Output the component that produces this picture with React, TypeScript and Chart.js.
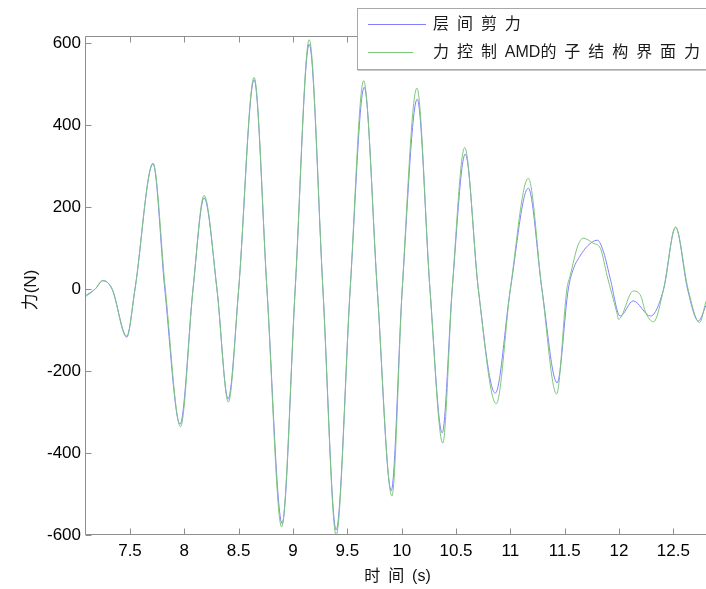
import React, { useEffect, useRef } from 'react';
import { Chart, registerables } from 'chart.js';

Chart.register(...registerables);

// ---- data ----
const shearT = [
  7.086, 7.18, 7.25, 7.335, 7.47, 7.546, 7.712, 7.82, 7.961, 8.08, 8.182, 8.3, 8.403, 8.5,
  8.642, 8.76, 8.9, 9.02, 9.149, 9.275, 9.397, 9.526, 9.655, 9.775, 9.904, 10.005, 10.143,
  10.26, 10.373, 10.465, 10.585, 10.705, 10.861, 11.0, 11.165, 11.29, 11.43, 11.533, 11.58,
  11.64, 11.71, 11.8, 11.86, 11.92, 12.01, 12.13, 12.29, 12.41, 12.52, 12.63, 12.73, 12.8,
];
const shearV = [
  -17, 0, 20, 0, -115, 0, 305, 0, -330, 0, 222, 0, -268, 0,
  510, 0, -572, 0, 597, 0, -588, 0, 492, 0, -492, 0, 463,
  0, -351, 0, 329, 0, -254, 0, 246, 0, -229, 0, 49,
  80, 105, 119, 88, 24, -66, -29, -66, 0, 151, 0, -78, -40,
];

const amdT = [
  7.086, 7.18, 7.25, 7.335, 7.47, 7.546, 7.712, 7.825, 7.965, 8.08, 8.182, 8.3, 8.405, 8.5,
  8.642, 8.76, 8.895, 9.02, 9.149, 9.275, 9.397, 9.526, 9.65, 9.775, 9.91, 10.005, 10.14,
  10.26, 10.378, 10.465, 10.58, 10.705, 10.87, 11.0, 11.165, 11.29, 11.425, 11.52, 11.55,
  11.62, 11.67, 11.76, 11.83, 11.89, 11.98, 11.995, 12.13, 12.2, 12.24, 12.317, 12.41,
  12.52, 12.635, 12.74, 12.8,
];
const amdV = [
  -20, 0, 21, 0, -118, 0, 307, 0, -336, 0, 228, 0, -276, 0,
  516, 0, -580, 0, 608, 0, -600, 0, 508, 0, -505, 0, 490,
  0, -376, 0, 345, 0, -280, 0, 270, 0, -256, 0, 32,
  105, 124, 112, 98, 32, -58, -74, -5, -17, -54, -80, 0,
  150, 0, -82, -30,
];

const xTicks = [7.5, 8, 8.5, 9, 9.5, 10, 10.5, 11, 11.5, 12, 12.5];
const yTicks = [-600, -400, -200, 0, 200, 400, 600];
const legendLabels = ['层 间 剪 力', '力 控 制 AMD的 子 结 构 界 面 力'];
const xTitle = '时 间 (s)';
const yTitle = '力(N)';

const X_MIN = 7.086;
const X_MAX = 12.8;
const Y_MIN = -600;
const Y_MAX = 617;

const BLUE = 'rgb(128,128,255)';
const GREEN = 'rgb(125,198,125)';
const FRAME = '#8e8e8e';
const FONT_FAMILY = '"Liberation Sans", Arial, "Noto Sans CJK SC", sans-serif';

const framePlugin = {
  id: 'matlabFrame',
  afterDraw(chart: any) {
    const { ctx, chartArea: a, scales } = chart;
    const xs = scales.x;
    const ys = scales.y;
    ctx.save();
    ctx.strokeStyle = FRAME;
    ctx.lineWidth = 1;
    ctx.beginPath();
    const top = Math.round(a.top) + 0.5;
    const bottom = Math.round(a.bottom) - 0.5;
    const left = Math.round(a.left) + 0.5;
    ctx.moveTo(left, top);
    ctx.lineTo(a.right + 2, top);
    ctx.moveTo(left, top);
    ctx.lineTo(left, bottom);
    ctx.moveTo(left, bottom);
    ctx.lineTo(a.right + 2, bottom);
    for (const v of xTicks) {
      const px = Math.round(xs.getPixelForValue(v)) + 0.5;
      ctx.moveTo(px, bottom);
      ctx.lineTo(px, bottom - 6);
      ctx.moveTo(px, top);
      ctx.lineTo(px, top + 6);
    }
    for (const v of yTicks) {
      const py = Math.round(ys.getPixelForValue(v)) + 0.5;
      ctx.moveTo(left, py);
      ctx.lineTo(left + 6, py);
    }
    ctx.stroke();

    // axis titles
    ctx.fillStyle = '#111';
    ctx.font = `16px ${FONT_FAMILY}`;
    (ctx as any).wordSpacing = '3.5px';
    ctx.textAlign = 'center';
    ctx.textBaseline = 'middle';
    ctx.fillText(xTitle, (a.left + a.right) / 2 + 2, 577);
    (ctx as any).wordSpacing = '0px';
    ctx.save();
    ctx.translate(31, 290);
    ctx.rotate(-Math.PI / 2);
    ctx.font = `17px ${FONT_FAMILY}`;
    ctx.fillText(yTitle, 0, 0);
    ctx.restore();

    // legend box
    const lx = 357.5;
    const ly = 8.5;
    const lw = 360;
    const lh = 61;
    ctx.fillStyle = '#ffffff';
    ctx.fillRect(lx, ly, lw, lh);
    ctx.strokeStyle = '#a8a8a8';
    ctx.strokeRect(lx, ly, lw, lh);
    ctx.beginPath();
    ctx.strokeStyle = '#c8c8c8';
    ctx.moveTo(lx, ly + lh + 1);
    ctx.lineTo(lx + lw, ly + lh + 1);
    ctx.stroke();

    const colors = [BLUE, GREEN];
    const ends = [426, 413];
    const rows = [24.5, 52.5];
    ctx.font = `16px ${FONT_FAMILY}`;
    (ctx as any).wordSpacing = '3.5px';
    ctx.textAlign = 'left';
    ctx.textBaseline = 'middle';
    legendLabels.forEach((lab, i) => {
      ctx.beginPath();
      ctx.strokeStyle = colors[i];
      ctx.lineWidth = 1;
      ctx.moveTo(368, rows[i]);
      ctx.lineTo(ends[i], rows[i]);
      ctx.stroke();
      ctx.fillStyle = '#1a1a1a';
      ctx.fillText(lab, 433, rows[i]);
    });
    (ctx as any).wordSpacing = '0px';
    ctx.restore();
  },
};

export default function App() {
  const canvasRef = useRef<HTMLCanvasElement | null>(null);

  useEffect(() => {
    const canvas = canvasRef.current;
    if (!canvas) return;
    const chart = new Chart(canvas, {
      type: 'line',
      data: {
        datasets: [
          {
            label: legendLabels[0],
            data: shearT.map((t, i) => ({ x: t, y: shearV[i] })),
            borderColor: BLUE,
            borderWidth: 1,
            pointRadius: 0,
            cubicInterpolationMode: 'monotone',
            fill: false,
            order: 1,
          },
          {
            label: legendLabels[1],
            data: amdT.map((t, i) => ({ x: t, y: amdV[i] })),
            borderColor: GREEN,
            borderWidth: 1,
            pointRadius: 0,
            cubicInterpolationMode: 'monotone',
            fill: false,
            order: 0,
          },
        ],
      },
      options: {
        animation: false,
        responsive: false,
        devicePixelRatio: 1,
        layout: { padding: { top: 36, right: 0, left: 0, bottom: 0 } },
        plugins: {
          legend: { display: false },
          tooltip: { enabled: false },
        },
        scales: {
          x: {
            type: 'linear',
            min: X_MIN,
            max: X_MAX,
            afterBuildTicks: (s: any) => {
              s.ticks = xTicks.map((v) => ({ value: v }));
            },
            afterFit: (s: any) => {
              s.height = 54;
            },
            grid: { display: false, drawTicks: false },
            border: { display: false },
            ticks: {
              padding: 6,
              color: '#000',
              font: { family: FONT_FAMILY, size: 17 },
              maxRotation: 0,
              autoSkip: false,
              callback: (v: any) => String(Math.round(Number(v) * 10) / 10),
            },
          },
          y: {
            type: 'linear',
            min: Y_MIN,
            max: Y_MAX,
            afterBuildTicks: (s: any) => {
              s.ticks = yTicks.map((v) => ({ value: v }));
            },
            afterFit: (s: any) => {
              s.width = 85;
            },
            grid: { display: false, drawTicks: false },
            border: { display: false },
            ticks: {
              padding: 4,
              color: '#000',
              font: { family: FONT_FAMILY, size: 17 },
              autoSkip: false,
              callback: (v: any) => String(Math.round(Number(v))),
            },
          },
        },
      },
      plugins: [framePlugin],
    } as any);
    return () => chart.destroy();
  }, []);

  return (
    <div
      style={{
        position: 'absolute',
        left: 0,
        top: 0,
        width: 706,
        height: 589,
        background: '#fff',
        overflow: 'hidden',
      }}
    >
      <canvas ref={canvasRef} width={706} height={589} style={{ display: 'block' }} />
    </div>
  );
}
